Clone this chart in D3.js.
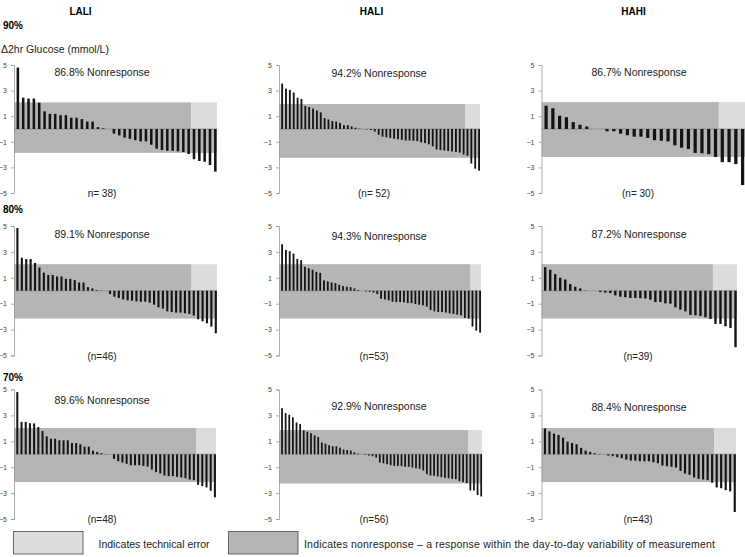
<!DOCTYPE html>
<html>
<head>
<meta charset="utf-8">
<script src="https://cdn.jsdelivr.net/npm/d3@7"></script>
<style>
  body { margin: 0; background: #fff; }
  svg { display: block; font-family: "Liberation Sans", Arial, sans-serif; }
</style>
</head>
<body>
<svg id="chart" width="745" height="557"></svg>
<script>
// Data: change in 2hr glucose per participant (mmol/L), sorted

const groups = ["LALI", "HALI", "HAHI"];
const levels = ["90%", "80%", "70%"];
const yTicks = [5, 3, 1, -1, -3, -5];

const lali90 = [4.8, 2.45, 2.38, 2.38, 2.05, 1.38, 1.18, 1.18, 1.08, 1.08, 0.88, 0.88, 0.78, 0.58, 0.58, 0.15, 0.05, 0,
  -0.36, -0.5, -0.67, -0.77, -0.87, -0.97, -0.97, -1.23, -1.54, -1.64, -1.7, -1.7, -1.74, -1.8, -1.95, -2.36, -2.5, -2.56, -2.82, -3.33];
const hali90 = [3.55, 3.15, 3.05, 2.85, 2.45, 2.35, 1.8, 1.72, 1.6, 1.45, 1.3, 0.85, 0.75, 0.62, 0.58, 0.48, 0.3, 0.3, 0.2, 0.1,
  0.02, 0, -0.03, -0.08, -0.2, -0.45, -0.6, -0.65, -0.7, -0.75, -0.8, -0.85, -0.9, -0.9, -0.92, -0.95, -1.05, -1.1, -1.2, -1.35,
  -1.6, -1.65, -1.68, -1.72, -1.75, -1.8, -1.85, -2.0, -2.1, -2.7, -3.1, -3.25];
const hahi90 = [1.82, 1.62, 1.03, 0.92, 0.54, 0.33, 0.2, 0, 0, -0.18, -0.18, -0.36, -0.49, -0.6, -0.6, -0.7, -0.87, -0.92, -0.97,
  -1.28, -1.46, -1.56, -1.87, -1.9, -1.97, -2.18, -2.59, -2.59, -2.74, -4.38];

const lali80 = [4.85, 2.55, 2.45, 2.45, 2.15, 1.8, 1.4, 1.22, 1.22, 1.1, 1.1, 0.92, 0.92, 0.82, 0.64, 0.64, 0.28, 0.18, 0.05, 0.02, 0,
  -0.26, -0.46, -0.56, -0.67, -0.74, -0.77, -0.82, -0.85, -0.85, -0.92, -1.08, -1.28, -1.38, -1.59, -1.64, -1.69, -1.69, -1.74, -1.79,
  -1.92, -2.2, -2.36, -2.51, -2.77, -3.28];
const hali80 = [3.59, 3.15, 3.05, 2.87, 2.46, 2.36, 1.85, 1.74, 1.62, 1.46, 1.38, 0.8, 0.72, 0.64, 0.59, 0.46, 0.36, 0.31, 0.28, 0.18,
  0.05, 0, -0.05, -0.08, -0.13, -0.26, -0.62, -0.67, -0.74, -0.85, -0.87, -0.87, -0.9, -0.95, -0.95, -1.03, -1.08, -1.13, -1.23, -1.49,
  -1.59, -1.64, -1.64, -1.69, -1.74, -1.79, -1.85, -1.9, -2.1, -2.15, -2.77, -3.08, -3.23];
const hahi80 = [1.82, 1.62, 1.28, 1.0, 0.87, 0.51, 0.31, 0.18, 0.02, 0, 0,
  -0.1, -0.15, -0.18, -0.36, -0.46, -0.5, -0.56, -0.56, -0.58, -0.6, -0.69, -0.87, -0.87, -0.97, -1.0, -1.28, -1.46, -1.59,
  -1.87, -1.9, -1.95, -2.05, -2.18, -2.56, -2.56, -2.74, -2.87, -4.36];

const lali70 = [4.8, 2.5, 2.5, 2.4, 2.38, 2.1, 1.8, 1.38, 1.2, 1.2, 1.08, 1.08, 1.08, 0.87, 0.87, 0.77, 0.59, 0.59, 0.28, 0.18, 0.08, 0.02, 0,
  -0.36, -0.54, -0.64, -0.74, -0.85, -0.85, -0.85, -0.9, -0.95, -1.18, -1.38, -1.49, -1.64, -1.69, -1.69, -1.74, -1.79, -1.85,
  -1.95, -2.0, -2.36, -2.46, -2.56, -2.82, -3.33];
const hali70 = [3.56, 3.18, 3.05, 2.85, 2.46, 2.33, 1.85, 1.74, 1.62, 1.46, 1.33, 0.9, 0.82, 0.69, 0.62, 0.62, 0.51, 0.36, 0.33, 0.28,
  0.15, 0.05, 0, -0.05, -0.1, -0.15, -0.26, -0.64, -0.69, -0.77, -0.85, -0.9, -0.9, -0.92, -0.97, -0.97, -1.03, -1.08, -1.13, -1.26,
  -1.54, -1.64, -1.67, -1.72, -1.77, -1.82, -1.85, -1.9, -1.92, -2.08, -2.15, -2.23, -2.8, -2.8, -3.15, -3.26];
const hahi70 = [2.0, 1.77, 1.59, 1.49, 1.28, 0.97, 0.87, 0.77, 0.49, 0.28, 0.18, 0.08, 0.02, 0,
  -0.1, -0.15, -0.23, -0.31, -0.41, -0.49, -0.49, -0.54, -0.54, -0.54, -0.62, -0.69, -0.87, -0.92, -0.97, -1.03,
  -1.28, -1.49, -1.59, -1.79, -1.9, -1.95, -2.0, -2.2, -2.56, -2.62, -2.77, -2.87, -4.46];

const panelValues = [
  [lali90, hali90, hahi90],
  [lali80, hali80, hahi80],
  [lali70, hali70, hahi70]
];
const nonresponse = [[86.8, 94.2, 86.7], [89.1, 94.3, 87.2], [89.6, 92.9, 88.4]];
const nLabels = [["n= 38)", "(n= 52)", "(n= 30)"], ["(n=46)", "(n=53)", "(n=39)"], ["(n=48)", "(n=56)", "(n=43)"]];
// day-to-day variability band (upper / lower) and first bar flagged as technical error
const upperLimit = [[2.08, 1.95, 2.1], [2.05, 2.05, 2.05], [2.03, 1.87, 2.03]];
const lowerLimit = [[-1.87, -2.25, -2.18], [-2.15, -2.15, -2.15], [-2.15, -2.26, -2.15]];
const errorStart = [[33, 48, 26], [40, 50, 34], [43, 52, 38]];

const legendItems = [
  "Indicates technical error",
  "Indicates nonresponse \u2013  a response within the day-to-day variability of measurement"
];

// ---------------------------------------------------------------------------
// layout

const colAxisX = [14, 279, 541.5];
const panelRight = [[217, 480, 745], [217, 481, 737], [216, 482, 736]];
const rowY = [[65, 193], [226, 355.5], [389.5, 519]];
const headerX = [80.5, 371.5, 633.5];
const levelY = [28.5, 213.3, 381];
const textCx = [102, 379, 639];
const nCx = [102, 374, 638];
const nonrespY = [[75.5, 77.2, 75.5], [238, 239.5, 238], [404, 410, 410.5]];

const darkFill = "#b5b5b5";
const lightFill = "#dcdcdc";
const barColor = "#141414";

const svg = d3.select("#chart");

groups.forEach((g, c) => {
  svg.append("text")
    .attr("x", headerX[c]).attr("y", 15)
    .attr("text-anchor", "middle")
    .attr("font-size", 10).attr("font-weight", "bold")
    .text(g);
});

levels.forEach((lv, r) => {
  svg.append("text")
    .attr("x", 3).attr("y", levelY[r])
    .attr("font-size", 10).attr("font-weight", "bold")
    .text(lv);
});

svg.append("text")
  .attr("x", 1).attr("y", 52.5)
  .attr("font-size", 10.5)
  .attr("fill", "#222")
  .text("\u03942hr Glucose (mmol/L)");

panelValues.forEach((row, r) => {
  row.forEach((values, c) => {
    const axisX = colAxisX[c];
    const right = panelRight[r][c];

    const y = d3.scaleLinear().domain([5, -5]).range(rowY[r]);
    const x = d3.scaleBand()
      .domain(d3.range(values.length))
      .range([axisX + 1.2, right + 1]);

    const g = svg.append("g").attr("class", "panel");
    const cut = x(errorStart[r][c]);

    // shaded bands
    g.append("rect")
      .attr("x", axisX).attr("y", y(0))
      .attr("width", right - axisX).attr("height", y(lowerLimit[r][c]) - y(0))
      .attr("fill", darkFill);
    g.append("rect")
      .attr("x", axisX).attr("y", y(upperLimit[r][c]))
      .attr("width", cut - axisX).attr("height", y(0) - y(upperLimit[r][c]))
      .attr("fill", darkFill);
    g.append("rect")
      .attr("x", cut).attr("y", y(upperLimit[r][c]))
      .attr("width", right - cut).attr("height", y(0) - y(upperLimit[r][c]))
      .attr("fill", lightFill);

    // zero line
    g.append("line")
      .attr("x1", axisX).attr("x2", right)
      .attr("y1", y(0)).attr("y2", y(0))
      .attr("stroke", "#8a8a8a").attr("stroke-width", 0.8);

    // bars
    const bw = x.step() * 0.48;
    g.selectAll("rect.bar")
      .data(values)
      .join("rect")
      .attr("class", "bar")
      .attr("x", (d, i) => x(i) + x.bandwidth() / 2 - bw / 2)
      .attr("width", bw)
      .attr("y", (d) => y(Math.max(0, d)))
      .attr("height", (d) => Math.abs(y(d) - y(0)))
      .attr("fill", barColor);

    // y axis
    const axis = d3.axisLeft(y).tickValues(yTicks).tickSize(3).tickPadding(4);
    const ax = g.append("g")
      .attr("transform", `translate(${axisX},0)`)
      .call(axis);
    ax.select(".domain").attr("stroke", "#999").attr("stroke-width", 0.8);
    ax.selectAll(".tick line").attr("stroke", "#999").attr("stroke-width", 0.8);
    ax.selectAll(".tick text")
      .attr("fill", "#444")
      .attr("font-size", 7)
      .attr("font-family", "Liberation Sans, Arial, sans-serif");

    // labels
    g.append("text")
      .attr("x", textCx[c]).attr("y", nonrespY[r][c])
      .attr("text-anchor", "middle")
      .attr("font-size", 10.5).attr("fill", "#222")
      .text(`${nonresponse[r][c]}% Nonresponse`);

    g.append("text")
      .attr("x", nCx[c]).attr("y", y(-5) + 4)
      .attr("text-anchor", "middle")
      .attr("font-size", 10).attr("fill", "#222")
      .text(nLabels[r][c]);
  });
});

// legend
const legendX = [13.5, 228.5];
const legendTextX = [98.5, 304];
const legendTextW = [111, 411];
const legendFill = [lightFill, darkFill];
legendItems.forEach((label, i) => {
  svg.append("rect")
    .attr("x", legendX[i]).attr("y", 531.5)
    .attr("width", 69.5).attr("height", 22.5)
    .attr("fill", legendFill[i])
    .attr("stroke", "#666").attr("stroke-width", 1);
  svg.append("text")
    .attr("x", legendTextX[i]).attr("y", 548)
    .attr("font-size", 10.5).attr("fill", "#222")
    .attr("textLength", legendTextW[i])
    .attr("lengthAdjust", "spacing")
    .text(label);
});
</script>
</body>
</html>
